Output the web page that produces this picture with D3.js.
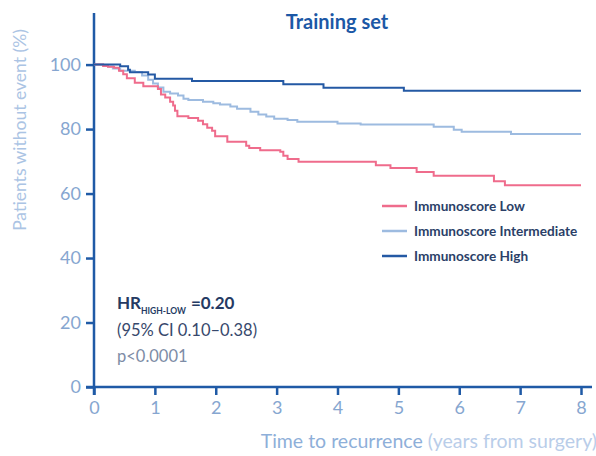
<!DOCTYPE html>
<html>
<head>
<meta charset="utf-8">
<script src="https://cdn.jsdelivr.net/npm/d3@7"></script>
<style>
  body { margin: 0; background: #fff; }
  svg { font-family: Lato, "Open Sans", sans-serif; }
</style>
</head>
<body>
<div class="content"></div>
<script>
// Main data (time in years, % without event)
const lowTimes = [0, 0.15, 0.23, 0.33, 0.41, 0.48, 0.54, 0.67, 0.81, 1.05, 1.1, 1.17, 1.25, 1.3, 1.33, 1.37, 1.55, 1.71, 1.79, 1.86, 1.94, 1.99, 2.19, 2.5, 2.55, 2.73, 3.06, 3.11, 3.18, 3.36, 4.63, 4.87, 5.3, 5.58, 6.57, 6.75, 8];
const lowSurv = [100, 99.6, 99.3, 99.0, 98.1, 97.0, 95.8, 94.4, 93.3, 92.4, 90.7, 89.8, 88.5, 87.3, 85.7, 84.0, 83.4, 82.6, 81.5, 80.4, 79.5, 77.8, 76.1, 74.8, 74.1, 73.4, 73.0, 71.7, 70.7, 69.9, 68.8, 67.9, 66.7, 65.5, 63.8, 62.6, 62.6];

const intTimes = [0, 0.15, 0.23, 0.31, 0.43, 0.67, 0.79, 0.89, 0.97, 1.05, 1.14, 1.25, 1.38, 1.47, 1.55, 1.79, 1.96, 2.07, 2.24, 2.35, 2.57, 2.7, 2.83, 2.96, 3.18, 3.34, 4.0, 4.38, 5.58, 5.91, 6.04, 6.85, 8];
const intSurv = [100, 99.7, 99.4, 98.8, 98.1, 97.7, 96.6, 95.3, 94.1, 92.9, 91.6, 91.0, 90.4, 89.4, 89.0, 88.5, 88.0, 87.6, 87.0, 86.3, 85.4, 84.5, 83.9, 83.2, 82.8, 82.3, 81.7, 81.4, 80.7, 79.8, 79.2, 78.5, 78.5];

const highTimes = [0, 0.43, 0.56, 0.59, 0.89, 1.0, 1.61, 3.11, 3.77, 5.09, 8];
const highSurv = [100, 99.5, 98.4, 97.6, 96.9, 95.6, 94.9, 93.9, 92.8, 91.9, 91.9];

// Helpers
const yTicks = [0, 20, 40, 60, 80, 100];
const xTicks = [0, 1, 2, 3, 4, 5, 6, 7, 8];
const seriesNames = ["Immunoscore Low", "Immunoscore Intermediate", "Immunoscore High"];
const seriesColors = ["#ef6c8c", "#9dbbe0", "#2459a4"];

const series = [
  { name: seriesNames[0], color: seriesColors[0], times: lowTimes, surv: lowSurv },
  { name: seriesNames[1], color: seriesColors[1], times: intTimes, surv: intSurv },
  { name: seriesNames[2], color: seriesColors[2], times: highTimes, surv: highSurv },
];

// Dimensions
const W = 596;
const H = 456;
const axisColor = "#1f5aa6";
const tickTextColor = "#86a6d0";

const svg = d3
  .select(".content")
  .append("svg")
  .attr("width", W)
  .attr("height", H);

// Scales
const x = d3.scaleLinear().domain([0, 8]).range([94, 581]);
const y = d3.scaleLinear().domain([0, 116]).range([387, 13]);

// Y axis
const yAxis = d3
  .axisLeft(y)
  .tickValues(yTicks)
  .tickSizeInner(8)
  .tickSizeOuter(0)
  .tickPadding(5);

const gy = svg
  .append("g")
  .attr("transform", `translate(${x(0)}, 0)`)
  .call(yAxis);

gy.select(".domain").remove();
gy.selectAll(".tick line").attr("stroke", axisColor).attr("stroke-width", 2.5);
gy.selectAll(".tick text")
  .attr("fill", tickTextColor)
  .attr("font-size", 18)
  .attr("font-family", "Lato");

// X axis
const xAxis = d3
  .axisBottom(x)
  .tickValues(xTicks)
  .tickSizeInner(8)
  .tickSizeOuter(0)
  .tickPadding(6);

const gx = svg
  .append("g")
  .attr("transform", `translate(0, ${y(0)})`)
  .call(xAxis);

gx.select(".domain").remove();
gx.selectAll(".tick line").attr("stroke", axisColor).attr("stroke-width", 2.5);
gx.selectAll(".tick text")
  .attr("fill", tickTextColor)
  .attr("font-size", 18)
  .attr("font-family", "Lato");

// Axis lines
svg
  .append("line")
  .attr("x1", x(0))
  .attr("x2", x(0))
  .attr("y1", y(116))
  .attr("y2", y(0) + 8)
  .attr("stroke", axisColor)
  .attr("stroke-width", 2.5);

svg
  .append("line")
  .attr("x1", x(0) - 8)
  .attr("x2", x(8) + 11)
  .attr("y1", y(0))
  .attr("y2", y(0))
  .attr("stroke", axisColor)
  .attr("stroke-width", 2.5);

// Curves
const line = d3
  .line()
  .x((d) => x(d[0]))
  .y((d) => y(d[1]))
  .curve(d3.curveStepAfter);

[series[1], series[0], series[2]].forEach((s) => {
  svg
    .append("path")
    .datum(s.times.map((t, i) => [t, s.surv[i]]))
    .attr("d", line)
    .attr("fill", "none")
    .attr("stroke", s.color)
    .attr("stroke-width", 2);
});

// Title
svg
  .append("text")
  .attr("x", 337)
  .attr("y", 29)
  .attr("text-anchor", "middle")
  .attr("font-size", 20)
  .attr("font-weight", "bold")
  .attr("fill", "#1c58a6")
  .text("Training set");

// Y axis title
svg
  .append("text")
  .attr("transform", "translate(26, 130) rotate(-90)")
  .attr("text-anchor", "middle")
  .attr("font-size", 17.5)
  .attr("fill", "#abc4e4")
  .text("Patients without event (%)");

// X axis title
const xt = svg
  .append("text")
  .attr("x", 597)
  .attr("y", 448)
  .attr("text-anchor", "end")
  .attr("font-size", 19.5);
xt.append("tspan").attr("fill", "#8eafd9").text("Time to recurrence ");
xt.append("tspan").attr("fill", "#b9cde9").text("(years from surgery)");

// Legend
const legend = svg.append("g").attr("transform", "translate(382, 206)");

legend
  .selectAll("line")
  .data(series)
  .join("line")
  .attr("x1", 0)
  .attr("x2", 25)
  .attr("y1", (d, i) => i * 25)
  .attr("y2", (d, i) => i * 25)
  .attr("stroke", (d) => d.color)
  .attr("stroke-width", 2.5);

legend
  .selectAll("text")
  .data(series)
  .join("text")
  .attr("x", 32)
  .attr("y", (d, i) => i * 25 + 4.5)
  .attr("font-size", 13.6)
  .attr("font-weight", "bold")
  .attr("fill", "#2b3f68")
  .text((d) => d.name);

// Hazard ratio annotation
const hr = svg
  .append("text")
  .attr("x", 117)
  .attr("y", 309)
  .attr("font-weight", "bold")
  .attr("fill", "#253a63");
hr.append("tspan").attr("font-size", 17).text("HR");
hr.append("tspan").attr("font-size", 8.5).attr("dy", 5).text("HIGH-LOW");
hr.append("tspan").attr("font-size", 17).attr("dy", -5).attr("dx", 5).text("=0.20");

svg
  .append("text")
  .attr("x", 117)
  .attr("y", 336)
  .attr("font-size", 16.5)
  .attr("fill", "#37486c")
  .text("(95% CI 0.10–0.38)");

svg
  .append("text")
  .attr("x", 117)
  .attr("y", 362)
  .attr("font-size", 16.5)
  .attr("fill", "#7d8ca6")
  .text("p<0.0001");
</script>
</body>
</html>
